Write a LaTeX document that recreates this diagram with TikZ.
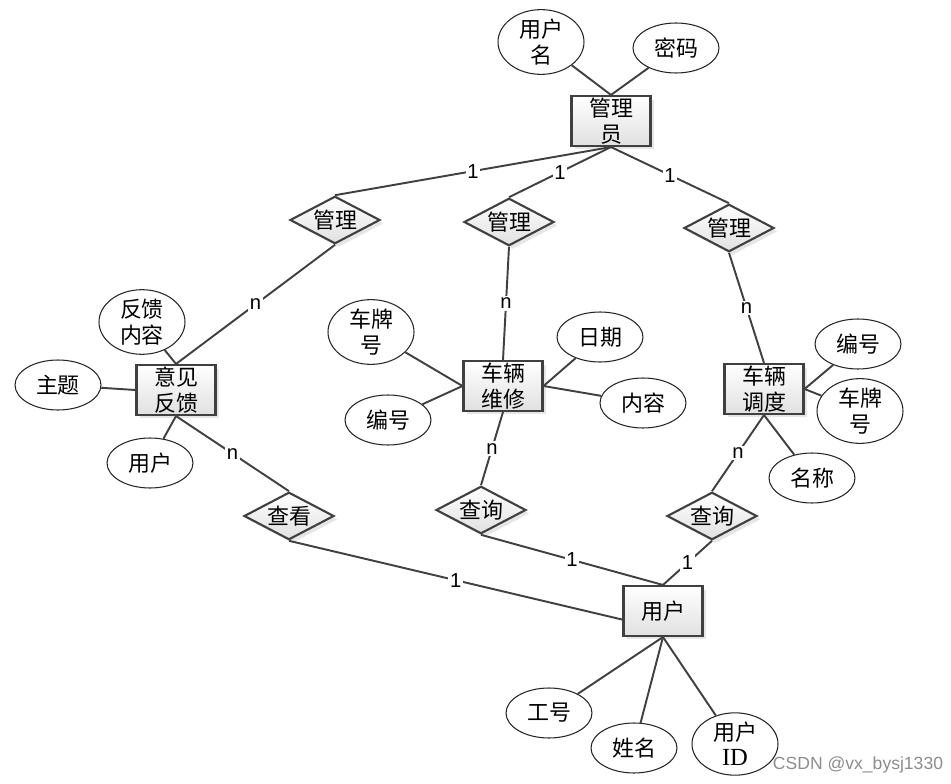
\documentclass[tikz,border=0pt]{standalone}
\usepackage{fontspec}
\setmainfont{Liberation Serif}
\newfontfamily\cjk{Noto Sans CJK SC}
\newfontfamily\lblfont{Liberation Sans}
\usetikzlibrary{shapes.geometric,shadows}

\begin{document}
\begin{tikzpicture}[x=0.02cm, y=-0.02cm,
    erEntity/.style={draw=black!75, line width=1.2pt, top color=white, bottom color=black!12,
        minimum width=1.58cm, minimum height=1cm, inner sep=0pt, align=center,
        font=\cjk\fontsize{12.5}{14.5}\selectfont,
        drop shadow={opacity=0.2, shadow xshift=0.07cm, shadow yshift=-0.07cm}},
    erRel/.style={diamond, draw=black!75, line width=1.2pt, top color=white, bottom color=black!12,
        minimum width=1.8cm, minimum height=0.95cm, aspect=1.9, inner sep=0pt,
        font=\cjk\fontsize{12.5}{14.5}\selectfont,
        drop shadow={opacity=0.2, shadow xshift=0.07cm, shadow yshift=-0.07cm}},
    erAttr/.style={ellipse, draw=black!85, line width=0.6pt, fill=white,
        minimum width=1.72cm, minimum height=1cm, inner sep=0pt, align=center,
        font=\cjk\fontsize{12.5}{14.5}\selectfont},
    erLine/.style={draw=black!75, line width=1.1pt},
    erCard/.style={fill=white, inner sep=1pt, font=\lblfont\fontsize{11.5}{12}\selectfont}]

    \useasboundingbox (0,0) rectangle (951,784);

    % Entities
    \node[erEntity] (admin) at (611,121) {管理\\员};
    \node[erEntity] (fb) at (176,390) {意见\\反馈};
    \node[erEntity] (repair) at (503,386) {车辆\\维修};
    \node[erEntity] (dispatch) at (764,389) {车辆\\调度};
    \node[erEntity] (user) at (663,611) {用户};

    % Relations
    \node[erRel] (mgrA) at (335,220) {管理};
    \node[erRel] (mgrB) at (509,222) {管理};
    \node[erRel] (mgrC) at (729,228) {管理};
    \node[erRel] (viewRel) at (289,516) {查看};
    \node[erRel] (queryA) at (481,510) {查询};
    \node[erRel] (queryB) at (712,516) {查询};

    % Attributes
    \node[erAttr] (adminName) at (541,42) {用户\\名};
    \node[erAttr] (adminPwd) at (676,48) {密码};
    \node[erAttr] (fbContent) at (142,322) {反馈\\内容};
    \node[erAttr] (fbTopic) at (58,385) {主题};
    \node[erAttr] (fbUser) at (150,463) {用户};
    \node[erAttr] (repPlate) at (371,332) {车牌\\号};
    \node[erAttr] (repNo) at (388,420) {编号};
    \node[erAttr] (repDate) at (600,337) {日期};
    \node[erAttr] (repContent) at (643,403) {内容};
    \node[erAttr] (disNo) at (858,344) {编号};
    \node[erAttr] (disPlate) at (860,411) {车牌\\号};
    \node[erAttr] (disName) at (812,478) {名称};
    \node[erAttr] (userWorkNo) at (549,713) {工号};
    \node[erAttr] (userName) at (634,748) {姓名};
    \node[erAttr] (userId) at (735,744) {用户\\\rmfamily\fontsize{14}{14.5}\selectfont ID};

    % Attribute links
    \draw[erLine] (admin.north) -- (adminName);
    \draw[erLine] (admin.north) -- (adminPwd);
    \draw[erLine] (fb.north) -- (fbContent);
    \draw[erLine] (fb.west) -- (fbTopic);
    \draw[erLine] (fb.south) -- (fbUser);
    \draw[erLine] (repair.west) -- (repPlate);
    \draw[erLine] (repair.west) -- (repNo);
    \draw[erLine] (repair.east) -- (repDate);
    \draw[erLine] (repair.east) -- (repContent);
    \draw[erLine] (dispatch.east) -- (disNo);
    \draw[erLine] (dispatch.east) -- (disPlate);
    \draw[erLine] (dispatch.south) -- (disName);
    \draw[erLine] (user.south) -- (userWorkNo);
    \draw[erLine] (user.south) -- (userName);
    \draw[erLine] (user.south) -- (userId);

    % Relationship links
    \draw[erLine] (admin.south) -- node[erCard] {1} (mgrA.north);
    \draw[erLine] (admin.south) -- node[erCard] {1} (mgrB.north);
    \draw[erLine] (admin.south) -- node[erCard] {1} (mgrC.north);
    \draw[erLine] (mgrA.south) -- node[erCard] {n} (fb.north);
    \draw[erLine] (mgrB.south) -- node[erCard] {n} (repair.north);
    \draw[erLine] (mgrC.south) -- node[erCard] {n} (dispatch.north);
    \draw[erLine] (fb.south) -- node[erCard] {n} (viewRel.north);
    \draw[erLine] (repair.south) -- node[erCard] {n} (queryA.north);
    \draw[erLine] (dispatch.south) -- node[erCard] {n} (queryB.north);
    \draw[erLine] (viewRel.south) -- node[erCard] {1} (user.192);
    \draw[erLine] (queryA.south) -- node[erCard] {1} (user.north);
    \draw[erLine] (queryB.south) -- node[erCard] {1} (user.north);

    % Watermark
    \node[text=black!45, font=\lblfont\fontsize{10}{12}\selectfont] (mark) at (858,765) {CSDN @vx\_bysj1330};
\end{tikzpicture}
\end{document}
